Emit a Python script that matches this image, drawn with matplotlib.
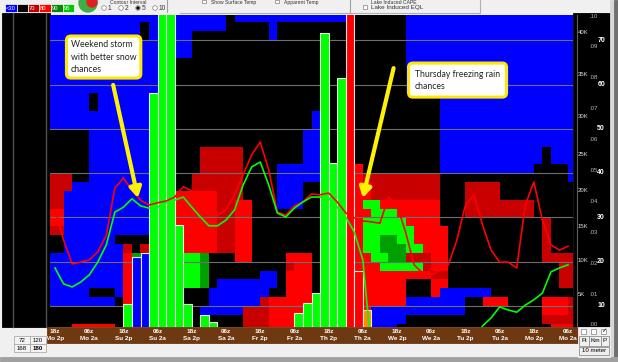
import numpy as np
import matplotlib.pyplot as plt
from matplotlib.colors import ListedColormap
from matplotlib.patches import Rectangle

W, H = 618, 362

# bottom time labels (time runs right to left)
hours = ["18z", "06z"] * 8
days = ["Mo 2p", "Mo 2a", "Su 2p", "Su 2a", "Sa 2p", "Sa 2a", "Fr 2p", "Fr 2a",
        "Th 2p", "Th 2a", "We 2p", "We 2a", "Tu 2p", "Tu 2a", "Mo 2p", "Mo 2a"]

# cell map, top row first, run-length coded
# b blue (<30), k black, d dark red (70), r red (80), G dark green (90), g green (95)
cell_rows = [
    "21b 1k 14b 6k 20b",
    "11b 1k 9b 5k 1b 15k 20b",
    "11b 1k 5b 9k 1b 15k 20b",
    "17b 25k 20b",
    "17b 25k 20b",
    "15b 27k 20b",
    "15b 27k 20b",
    "15b 27k 20b",
    "15b 27k 20b",
    "5b 1k 9b 31k 16b",
    "5b 1k 9b 31k 16b",
    "15b 16k 1b 14k 16b",
    "15b 16k 1b 14k 16b",
    "5k 10b 15k 2b 14k 16b",
    "5k 10b 15k 2b 14k 16b",
    "5k 10b 3k 5d 7k 2b 14k 12b 1k 3b",
    "5k 10b 3k 5d 7k 2b 14k 12b 1k 3b",
    "5k 10b 3k 5d 4k 5b 4k 1r 9k 11b 4k 1b",
    "3d 2k 10b 2k 6d 4k 5b 4k 1r 9d 15k 1b",
    "3d 12b 2k 6d 4k 3b 6k 2r 8d 3k 4d 9k",
    "2d 13b 5r 3d 4k 3b 6k 2r 8d 3k 4d 9k",
    "2d 13b 5r 2d 2r 3k 3b 6k 1r 2g 7r 3k 8d 5k",
    "2r 13b 5r 2d 2r 12k 2r 3g 5r 3k 8d 5k",
    "2r 13b 5r 2d 2r 12k 1r 5g 4r 12k 1d 3k",
    "2d 13b 5r 2d 2r 12k 1r 6g 4r 11k 1d 3k",
    "2k 6b 4k 3b 5r 2d 2r 12k 1r 2g 2G 2g 4r 11k 1d 3k",
    "2k 7b 1d 1k 1d 3b 5r 2d 2r 12k 1r 2g 3G 2g 3r 11k 1d 3k",
    "9b 1r 2G 3b 1r 2g 1G 3k 2r 4k 3r 5k 2r 2g 2G 3d 2r 11k 4d",
    "9b 1r 2G 3b 1r 2g 1G 9k 1d 2r 5k 3r 5g 1d 2r 13k 2d",
    "9b 1r 2G 3b 1r 2g 1G 6k 2b 1k 3r 5k 9r 2d 13k 2d",
    "9b 1r 2G 3b 1r 2g 1G 1k 7b 1k 3r 5k 6r 3k 2r 13k 2d",
    "5b 3k 1b 1r 5b 1d 3k 7b 2k 3r 5k 6r 3k 1r 6b 10k",
    "8b 1k 1r 9k 6b 1d 5r 5k 6r 7b 2k 3r 4k 3r 1d",
    "18k 5b 3d 5r 5k 2r 11b 9k 3r 1d",
    "23k 3d 3r 7k 2r 4b 16k 4d",
    "3k 5r 15k 3d 3r 7k 2r 3b 18k 3r",
]
cell_codes = "bkdrGg"
cell_colors = ["#0000FF", "#000000", "#C80000", "#FF0000", "#00A000", "#00FF00"]

# precipitation bars: column, top value, colour
bar_cols = [8, 9, 10, 11, 12, 13, 14, 15, 17, 18, 28, 29, 30, 31, 32, 33, 34, 35, 36]
bar_vals = [10.5, 21.1, 22.0, 58.1, 80, 80, 28.3, 10.5, 8.0, 6.4,
            8.4, 10.7, 12.9, 71.6, 42.3, 61.5, 80, 17.9, 9.1]
bar_kind = ["#00FF00", "#0000FF", "#0000FF", "#00FF00", "#00FF00", "#00FF00", "#00FF00",
            "#00FF00", "#00FF00", "#00FF00", "#00FF00", "#00FF00", "#00FF00",
            "#00FF00", "#00FF00", "#00FF00", "#FF0000", "#FF0000", "#FF8C00"]

red_line = [31.7, 24.9, 19.5, 19.9, 20.4, 22.2, 26.0, 36.6, 38.9, 36.2, 33.9, 32.8, 33.3,
            33.7, 34.6, 36.9, 36.0, 33.9, 31.0, 30.5, 31.7, 35.1, 39.6, 44.1, 47.0, 40.7,
            31.2, 30.5, 32.6, 33.5, 35.3, 35.1, 35.5, 33.5, 31.0, 29.9, 29.2, 29.0, 28.7,
            34.6, 32.8, 26.7, 19.3, 17.4, 17.0, 18.1, 19.3, 24.9, 32.8, 35.1, 28.3, 22.6,
            19.9, 19.9, 18.6, 32.8, 38.0, 29.4, 23.8, 22.6, 23.5]
green_line = [18.6, 15.0, 14.3, 15.4, 17.0, 19.9, 23.8, 31.2, 32.3, 34.2, 32.6, 32.1, 32.3,
              33.3, 33.9, 34.6, 32.3, 30.1, 28.1, 28.1, 29.4, 31.7, 37.3, 41.4, 42.5, 37.3,
              31.0, 30.1, 32.1, 33.5, 34.6, 34.6, 34.4, 32.3, 30.1, 26.7, 20.4,
              0, 0, 0, 0, 0, 0, 0, 0, 0, 0, 0, 0,
              2.0, 5.5, 7.3, 9.8, 9.1, 8.6, 10.2, 11.4, 12.9, 17.7, 18.6, 19.3]

k_labels = ["40K", "35K", "30K", "25K", "20K", "15K", "10K", "5K"]
k_pos = [32, 74, 116, 154, 191, 227, 260, 294]
dec_labels = [".10", ".09", ".08", ".07", ".06", ".05", ".04", ".03", ".02", ".01", ".00"]
int_labels = ["70", "60", "50", "40", "30", "20", "10"]


def expand(row, n=62):
    s = "".join(tok[-1] * int(tok[:-1]) for tok in row.split())
    return (s + "k" * n)[:n]


grid = np.array([[cell_codes.index(c) for c in expand(r)] for r in cell_rows])

plt.rcParams['font.family'] = ['Liberation Sans', 'DejaVu Sans']
fig = plt.figure(figsize=(W / 100, H / 100), dpi=100)
fig.patch.set_facecolor("#F0F0F0")


def px_axes(x0, y0, x1, y1):
    a = fig.add_axes([x0 / W, 1 - y1 / H, (x1 - x0) / W, (y1 - y0) / H])
    a.set_xlim(x0, x1)
    a.set_ylim(y1, y0)
    a.axis("off")
    return a


def box(a, x0, y0, x1, y1, fc, ec=None, lw=0.6, z=1):
    a.add_patch(Rectangle((x0, y0), x1 - x0, y1 - y0, fc=fc, ec=ec or fc, lw=lw, zorder=z))


# chrome: full-figure pixel canvas
bg = px_axes(0, 0, W, H)
box(bg, 0, 0, W, 14, "#F0F0F0")
box(bg, 2, 13, 50, 327, "#000000")
bg.plot([13, 13], [13, 327], color="#505050", lw=1)
bg.plot([46, 46], [13, 327], color="#505050", lw=1)
box(bg, 573, 13, 610, 327, "#000000")
bg.plot([577, 577], [15, 327], color="#606060", lw=0.8)
box(bg, 610, 0, 618, 362, "#D8D8D8")
box(bg, 614, 0, 618, 362, "#707070")
box(bg, 0, 357, 618, 362, "#A0A0A0")
box(bg, 47, 327, 578, 343, "#6E3810")

# top legend swatches
sw_cols = ["#0000FF", "#000000", "#C00000", "#FF0000", "#008C00", "#00C800"]
sw_text = ["<30", "", "70", "80", "90", "95"]
sw_x = [5, 17, 28, 39, 51, 63, 74]
for i in range(6):
    box(bg, sw_x[i], 4, sw_x[i + 1], 12, sw_cols[i], "#FFFFFF", 0.5)
    bg.text(sw_x[i] + 1, 8.3, sw_text[i], color="white", fontsize=4.2, va="center", ha="left")
bg.add_patch(plt.Circle((88, 3), 9, color="#3CB043", zorder=2))
bg.add_patch(plt.Circle((92, 2), 5, color="#E02020", zorder=3))
bg.text(128, 0.2, "Contour Interval", fontsize=3.6, ha="center", va="top", color="#333333")
for xr, lab, on in [(104, "1", False), (121, "2", False), (138, "5", True), (155, "10", False)]:
    bg.add_patch(plt.Circle((xr, 8), 2.3, fc="white", ec="#808080", lw=0.5, zorder=3))
    if on:
        bg.add_patch(plt.Circle((xr, 8), 1.0, color="black", zorder=4))
    bg.text(xr + 4, 8.3, lab, fontsize=4.8, va="center", color="#333333")
bg.plot([167, 167], [0, 12], color="#A0A0A0", lw=0.8)
for xc, lab in [(202, "Show Surface Temp"), (275, "Apparent Temp")]:
    box(bg, xc, 0, xc + 4, 3, "white", "#808080", 0.5, 3)
    bg.text(xc + 9, 0.2, lab, fontsize=3.6, va="top", color="#333333")
bg.plot([350, 350], [0, 12], color="#A0A0A0", lw=0.8)
box(bg, 363, 5, 367, 9, "white", "#808080", 0.5, 3)
bg.text(371, 0.2, "Lake Induced CAPE", fontsize=3.6, va="top", color="#333333")
bg.text(371, 7.3, "Lake Induced EQL", fontsize=4.6, va="center", color="#333333")
bg.plot([180, 480, 480], [13, 13, 0], color="#B0B0B0", lw=0.8)

# right axis labels
for lab, y in zip(k_labels, k_pos):
    bg.text(578, y, lab, color="#DDDDDD", fontsize=4.3, va="center")
for i, lab in enumerate(dec_labels):
    bg.text(589, 16 + 30.9 * i, lab, color="#BBBBBB", fontsize=4.3, va="center")
for i, lab in enumerate(int_labels):
    bg.text(605, 40 + 44.3 * i, lab, color="white", fontsize=5, fontweight="bold",
            va="center", ha="right")

# bottom time labels
for i in range(16):
    xl = 55 + 34.2 * i
    bg.text(xl, 331.5, hours[i], color="white", fontsize=4.6, fontweight="bold", ha="center", va="center")
    bg.text(xl, 338.5, days[i], color="white", fontsize=4.6, fontweight="bold", ha="center", va="center")
box(bg, 578, 327, 610, 357, "#F0F0F0", z=3)
for xc in [581, 591, 601]:
    box(bg, xc, 329, xc + 5, 334, "white", "#808080", 0.5, 4)
bg.text(603.5, 331, "\u2713", fontsize=4.5, ha="center", va="center", zorder=5)
for x0, x1, lab in [(579, 589, "Ft"), (589, 601, "Km"), (601, 609, "P")]:
    box(bg, x0, 336, x1, 346, "#F0F0F0", "#909090", 0.6, 4)
    bg.text((x0 + x1) / 2, 341, lab, fontsize=4.6, ha="center", va="center", zorder=5)
box(bg, 579, 347, 609, 355, "#F0F0F0", "#909090", 0.6, 4)
bg.text(594, 351, "10 meter", fontsize=4.4, ha="center", va="center", zorder=5)
for (x0, x1), labs in zip([(14, 30), (30, 46)], [("72", "168"), ("120", "180")]):
    box(bg, x0, 336, x1, 344, "#F4F4F4", "#A0A0A0", 0.5, 4)
    box(bg, x0, 344, x1, 352, "#F4F4F4", "#A0A0A0", 0.5, 4)
    bg.text((x0 + x1) / 2, 340, labs[0], fontsize=4.4, ha="center", va="center", zorder=5)
    bg.text((x0 + x1) / 2, 348, labs[1], fontsize=4.4, ha="center", va="center", zorder=5,
            fontweight="bold" if labs[1] == "180" else "normal")

# main panel: x in 3-hour columns, y on the right-hand 10..70 scale
ax = fig.add_axes([50 / W, 1 - 327 / H, 523 / W, 312 / H])
ax.set_xlim(-0.585, 60.58)
ax.set_ylim(5.26, 75.69)
ax.axis("off")
ax.imshow(grid, cmap=ListedColormap(cell_colors), vmin=0, vmax=5, extent=[-1, 61, 4, 76],
          aspect="auto", interpolation="nearest", origin="upper", zorder=1)
for v in range(10, 80, 10):
    ax.axhline(v, color="#6E6E6E", lw=0.8, zorder=2)
ax.bar(np.array(bar_cols) + 0.5, np.array(bar_vals), bottom=0, width=1, color=bar_kind,
       edgecolor="#E8E8E8", linewidth=0.8, zorder=3)
ax.plot(np.arange(len(red_line)), red_line, color="#FF0000", lw=1.2, zorder=4)
ax.plot(np.arange(len(green_line)), green_line, color="#00FF00", lw=1.2, zorder=4)

# callouts
ax.annotate("", xy=(9.7, 34.4), xytext=(6.8, 59.9),
            arrowprops=dict(arrowstyle="-|>,head_length=0.6,head_width=0.35", color="#FFF200",
                            lw=3.0, shrinkA=0, shrinkB=0), zorder=6)
ax.annotate("", xy=(36.0, 34.4), xytext=(39.6, 63.7),
            arrowprops=dict(arrowstyle="-|>,head_length=0.6,head_width=0.35", color="#FFF200",
                            lw=3.0, shrinkA=0, shrinkB=0), zorder=6)
ax.text(1.85, 66.2, "Weekend storm\nwith better snow\nchances", fontsize=6.3, family="Lato",
        color="#222222", va="center", ha="left", linespacing=1.45, zorder=7,
        bbox=dict(boxstyle="round,pad=0.5,rounding_size=0.5", fc="white", ec="#FFE800", lw=2.2))
ax.text(42.1, 61.0, "Thursday freezing rain\nchances", fontsize=6.2, family="Lato",
        color="#222222", va="center", ha="left", linespacing=1.45, zorder=7,
        bbox=dict(boxstyle="round,pad=0.75,rounding_size=0.5", fc="white", ec="#FFE800", lw=2.2))

fig.savefig("out.png", dpi=100, facecolor=fig.get_facecolor())
